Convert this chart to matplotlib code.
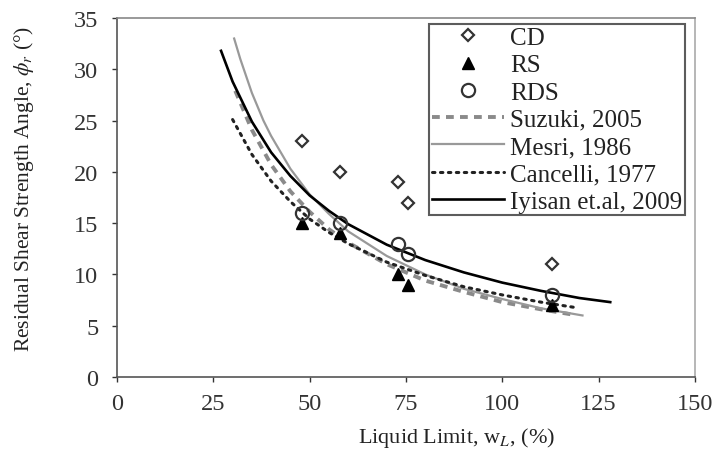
import matplotlib
matplotlib.use("Agg")
import matplotlib.pyplot as plt

plt.rcParams['font.family'] = ['Liberation Serif', 'DejaVu Serif']
plt.rcParams['mathtext.fontset'] = 'stix'

# Measured data points
wl_pts = [48, 58, 73, 75.5, 113]
cd_vals = [23, 20, 19, 17, 11]
rs_vals = [15, 14, 10, 9, 7]
rds_vals = [16, 15, 13, 12, 8]

suzuki_x = [30.7, 35, 40, 45, 50, 55, 60, 70, 80, 90, 100, 110, 118]
suzuki_y = [27.9, 24.1, 20.7, 18.1, 16.1, 14.4, 13.1, 11.0, 9.4, 8.3, 7.3, 6.6, 6.1]

mesri_x = [30.4, 32, 35, 38, 40, 45, 50, 55, 60, 70, 80, 90, 100, 110, 120.8]
mesri_y = [33.0, 31.0, 27.7, 25.0, 23.5, 20.3, 17.8, 15.9, 14.2, 11.8, 10.0, 8.6, 7.6, 6.7, 6.0]

cancelli_x = [30, 35, 40, 45, 50, 55, 60, 70, 80, 90, 100, 110, 118.5]
cancelli_y = [25.1, 21.7, 19.1, 17.1, 15.4, 14.1, 13.0, 11.2, 9.9, 8.8, 8.0, 7.3, 6.8]

iyisan_x = [27, 30, 35, 40, 45, 50, 55, 60, 70, 80, 90, 100, 110, 120, 128]
iyisan_y = [31.8, 28.8, 24.9, 21.9, 19.6, 17.7, 16.2, 14.9, 12.9, 11.4, 10.2, 9.2, 8.4, 7.7, 7.3]

x_ticks = [0, 25, 50, 75, 100, 125, 150]
y_ticks = [0, 5, 10, 15, 20, 25, 30, 35]

fig = plt.figure(figsize=(7.18, 4.64), dpi=100)
ax = fig.add_axes([117/718, 1-378/464, (695-117)/718, (378-19)/464])

ax.plot(wl_pts, cd_vals, linestyle='none', marker='D', ms=6.5, mfc='white',
        mec='#333333', mew=1.6, label='CD', zorder=5)
ax.plot(wl_pts, rs_vals, linestyle='none', marker='^', ms=9, mfc='black',
        mec='black', label='RS', zorder=5)
ax.plot(wl_pts, rds_vals, linestyle='none', marker='o', ms=9.5, mfc='none',
        mec='#333333', mew=1.6, label='RDS', zorder=5)
ax.plot(suzuki_x, suzuki_y, color='#8a8a8a', lw=2.8, dashes=(2.0, 1.6),
        label='Suzuki, 2005', zorder=3)
ax.plot(mesri_x, mesri_y, color='#999999', lw=1.6, label='Mesri, 1986', zorder=3)
ax.plot(cancelli_x, cancelli_y, color='#222222', lw=2.2, linestyle=(0, (0.8, 1.8)),
        dash_capstyle='round', label='Cancelli, 1977', zorder=3)
ax.plot(iyisan_x, iyisan_y, color='black', lw=1.9, label='Iyisan et.al, 2009', zorder=4)

ax.set_xlim(0, 150)
ax.set_ylim(0, 35)
ax.set_xticks(x_ticks)
ax.set_yticks(y_ticks)
ax.tick_params(direction='out', length=3.5, width=1, labelsize=17.5, colors='#333333')
ax.tick_params(axis='x', pad=8)
ax.tick_params(axis='y', pad=10)
for s in ax.spines.values():
    s.set_color('#555555')
    s.set_linewidth(1.2)
ax.spines['right'].set_color('#aaaaaa')
ax.spines['top'].set_color('#888888')

ax.set_ylabel('Residual Shear Strength Angle, $\\phi_r$ (°)', fontsize=15.5,
              color='#222222')
ax.yaxis.set_label_coords(-0.14, 0.526)
ax.set_xlabel('Liquid Limit, w$_L$, (%)', fontsize=16, color='#222222')
ax.xaxis.set_label_coords(0.587, -0.135)

leg = ax.legend(loc='upper right', bbox_to_anchor=(685/718, 1-25/464),
                bbox_transform=fig.transFigure, fontsize=18, frameon=True,
                fancybox=False, edgecolor='#333333', labelspacing=0.19,
                handlelength=2.9, handletextpad=0.24, borderpad=0.1,
                borderaxespad=0)
leg.get_frame().set_linewidth(1.5)
for t in leg.get_texts():
    t.set_color('#222222')

fig.savefig('out.png', dpi=100)
